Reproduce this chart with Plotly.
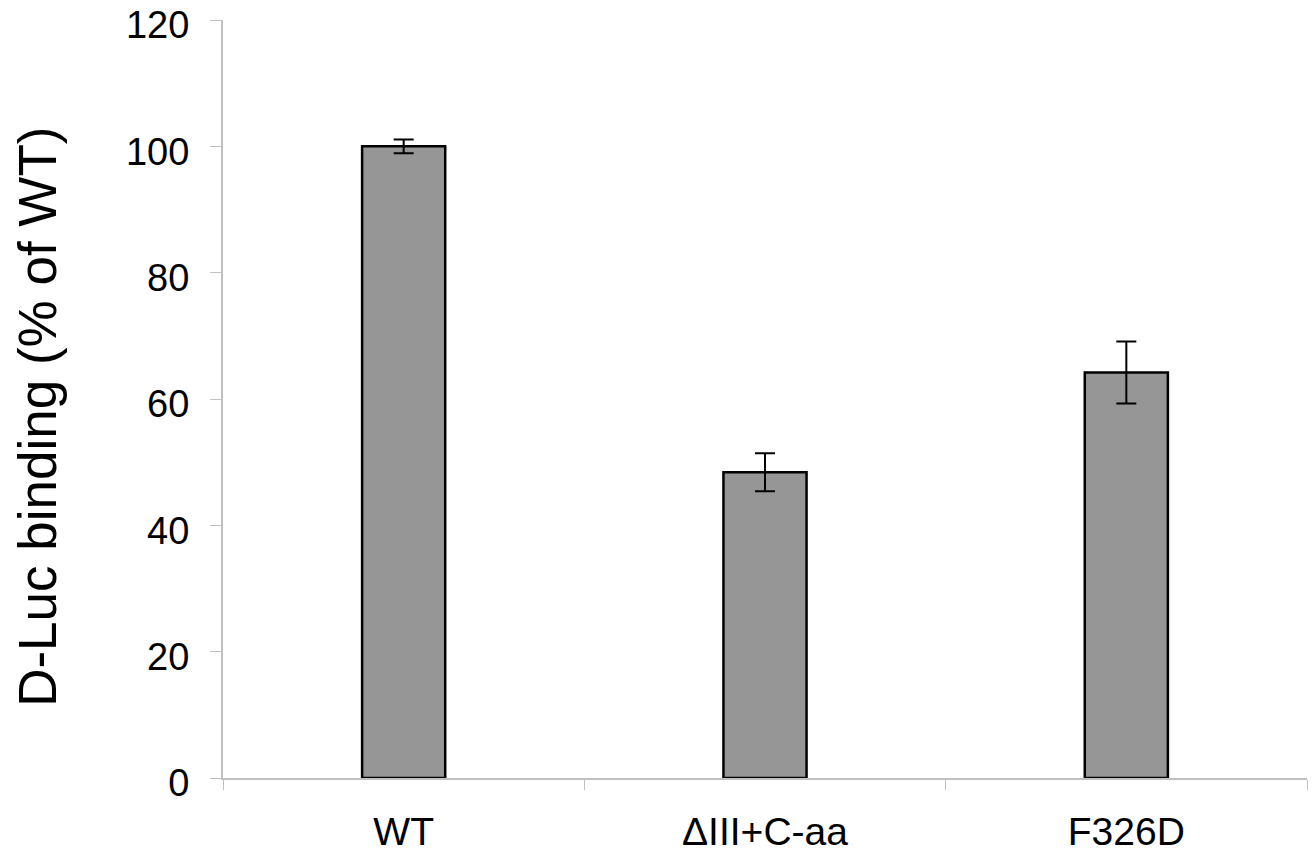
import plotly.graph_objects as go

categories = ["WT", "ΔIII+C-aa", "F326D"]
values = [100.0, 48.4, 64.2]
errors = [1.1, 3.0, 4.9]
y_ticks = [0, 20, 40, 60, 80, 100, 120]
y_title = "D-Luc binding (% of WT)"

fig = go.Figure()
fig.add_trace(go.Bar(
    x=categories, y=values,
    width=0.23,
    marker=dict(color="#969696", line=dict(color="black", width=2.5)),
    error_y=dict(type="data", array=errors, visible=True, color="black", thickness=2, width=10),
))

font_family = "Liberation Sans, Arial, sans-serif"
fig.update_layout(
    width=1316, height=852,
    margin=dict(l=223, r=9, t=20, b=74),
    plot_bgcolor="white", paper_bgcolor="white",
    showlegend=False,
    font=dict(family=font_family, color="black"),
    xaxis=dict(
        type="category", tickson="boundaries", ticks="outside", ticklen=10,
        tickcolor="#c0c0c0", showline=True, linecolor="#c0c0c0", linewidth=2,
        showgrid=False, tickfont=dict(size=39, family=font_family, color="black"),
        range=[-0.5, 2.5], automargin=False, ticklabelstandoff=18,
    ),
    yaxis=dict(
        range=[0, 120], tickvals=y_ticks, ticks="outside", ticklen=11,
        tickcolor="#c0c0c0", showline=True, linecolor="#c0c0c0", linewidth=2,
        showgrid=False, zeroline=False, tickfont=dict(size=38, family=font_family, color="black"),
        automargin=False, ticklabelstandoff=13, ticklabeloverflow="allow",
        ticklabelshift=5,
    ),
    annotations=[dict(
        text=y_title, xref="paper", yref="paper", x=-0.171, y=0.476,
        xanchor="center", yanchor="middle", textangle=-90, showarrow=False,
        font=dict(size=53, family=font_family, color="black"),
    )],
)
fig.write_html("out.html", config={"displayModeBar": False},
               post_script="document.body.style.margin='0';")
